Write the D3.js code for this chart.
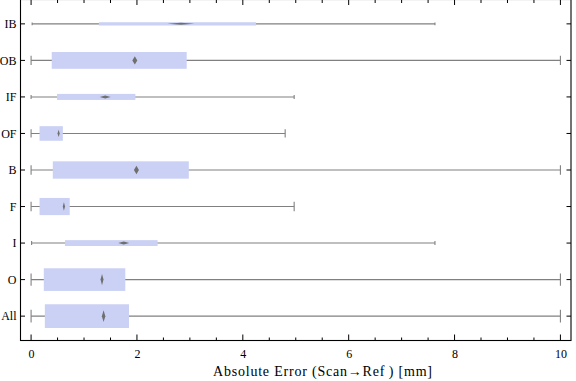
<!DOCTYPE html>
<html><head><meta charset="utf-8">
<script src="https://cdn.jsdelivr.net/npm/d3@7"></script>
<style>
body{margin:0;background:#fff;}
svg{display:block;}
text{font-family:"Liberation Serif","DejaVu Serif",serif;fill:#000;}
</style></head>
<body>
<svg id="chart" width="576" height="381"></svg>
<script>
// ---- data ----
const categories = ["IB","OB","IF","OF","B","F","I","O","All"];
const minVals    = [0.02, 0.0, 0.0, 0.0, 0.0, 0.0, 0.01, 0.0, 0.0];
const q1Vals     = [1.28, 0.39, 0.49, 0.16, 0.41, 0.16, 0.64, 0.24, 0.26];
const medianVals = [2.83, 1.96, 1.40, 0.52, 1.99, 0.62, 1.75, 1.34, 1.37];
const q3Vals     = [4.25, 2.94, 1.97, 0.60, 2.98, 0.73, 2.39, 1.78, 1.85];
const maxVals    = [7.63, 10.0, 4.97, 4.80, 10.0, 4.97, 7.63, 10.0, 10.0];
// relative box thickness (fraction of category step)
const boxThickness = [0.09, 0.46, 0.165, 0.40, 0.475, 0.47, 0.16, 0.62, 0.65];
const xTicks = [0, 2, 4, 6, 8, 10];
const xLabel = "Absolute Error (Scan\u2192Ref\u2009) [mm]";

// ---- styles ----
const markerW = [27, 5, 11, 2.2, 5, 2.2, 11, 3, 3.5];
const boxFill = "#cbd1f5";
const whiskerColor = "#808080";

const svg = d3.select("#chart");
const pLeft = 20.5, pRight = 571, pTop = -0.5, pBottom = 340.5;

const x = d3.scaleLinear().domain([-0.2, 10.2]).range([pLeft, pRight]);
const y = d3.scalePoint().domain(categories).range([pTop, pBottom]).padding(0.667);
const step = y.step();

const data = categories.map((c, i) => ({
  c, min: minVals[i], q1: q1Vals[i], med: medianVals[i], q3: q3Vals[i], max: maxVals[i],
  h: boxThickness[i] * step, mw: markerW[i]
}));

const g = svg.append("g");
// whiskers
g.selectAll(".wh").data(data).join("line")
  .attr("x1", d => x(d.min)).attr("x2", d => x(d.max))
  .attr("y1", d => y(d.c)).attr("y2", d => y(d.c))
  .attr("stroke", whiskerColor).attr("stroke-width", 1.1);
// caps
["min","max"].forEach(k => {
  g.selectAll(".cap-" + k).data(data).join("line")
    .attr("x1", d => x(d[k])).attr("x2", d => x(d[k]))
    .attr("y1", d => y(d.c) - (d.h * 0.5 + 1) / 2)
    .attr("y2", d => y(d.c) + (d.h * 0.5 + 1) / 2)
    .attr("stroke", whiskerColor).attr("stroke-width", 1.1);
});
// boxes
g.selectAll(".box").data(data).join("rect")
  .attr("x", d => x(d.q1)).attr("width", d => x(d.q3) - x(d.q1))
  .attr("y", d => y(d.c) - d.h / 2).attr("height", d => d.h)
  .attr("fill", boxFill);
// median diamonds
g.selectAll(".med").data(data).join("path")
  .attr("d", d => {
    const cx = x(d.med), cy = y(d.c), hw = d.mw / 2, hh = Math.max(1, d.h * 0.25);
    return `M${cx - hw},${cy}L${cx},${cy - hh}L${cx + hw},${cy}L${cx},${cy + hh}Z`;
  })
  .attr("fill", "#6f6f6f");

// ---- frame + axes ----
const axB = d3.axisBottom(x).tickValues(xTicks).tickSize(0).tickPadding(0).tickFormat(d3.format("d"));
const minor = d3.range(0, 10.01, 0.5);
const fg = svg.append("g");
fg.append("rect").attr("x", pLeft).attr("y", pTop).attr("width", pRight - pLeft).attr("height", pBottom - pTop)
  .attr("fill", "none").attr("stroke", "#000").attr("stroke-width", 1.1);
// bottom & top ticks
minor.forEach(v => {
  const major = Math.abs(v - Math.round(v / 2) * 2) < 1e-9;
  const len = major ? 6 : 3;
  fg.append("line").attr("x1", x(v)).attr("x2", x(v)).attr("y1", pBottom).attr("y2", pBottom - len)
    .attr("stroke", "#000").attr("stroke-width", 1);
  fg.append("line").attr("x1", x(v)).attr("x2", x(v)).attr("y1", 0).attr("y2", major ? 5 : 3)
    .attr("stroke", "#000").attr("stroke-width", 1);
});
// bottom tick labels
const axG = fg.append("g").attr("transform", `translate(0,${pBottom})`).call(axB);
axG.select(".domain").remove();
axG.selectAll("text").attr("dy", null).attr("y", 17).attr("font-size", 12)
  .style("font-family", "'Liberation Serif',serif").attr("fill", "#000");
// left/right category ticks
categories.forEach(c => {
  fg.append("line").attr("x1", pLeft).attr("x2", pLeft + 4.5).attr("y1", y(c)).attr("y2", y(c))
    .attr("stroke", "#000").attr("stroke-width", 1);
  fg.append("line").attr("x1", pRight - 4.5).attr("x2", pRight).attr("y1", y(c)).attr("y2", y(c))
    .attr("stroke", "#000").attr("stroke-width", 1);
});
const axL = d3.axisLeft(y).tickSize(0).tickPadding(4);
const lg = fg.append("g").attr("transform", `translate(${pLeft},0)`).call(axL);
lg.select(".domain").remove();
lg.selectAll("text").attr("font-size", 12).style("font-family", "'Liberation Serif',serif").attr("fill", "#000");

svg.append("text").attr("x", 322.5).attr("y", 376)
  .attr("text-anchor", "middle").attr("font-size", 14)
  .attr("textLength", 219).attr("lengthAdjust", "spacing").text(xLabel);
</script>
</body></html>
